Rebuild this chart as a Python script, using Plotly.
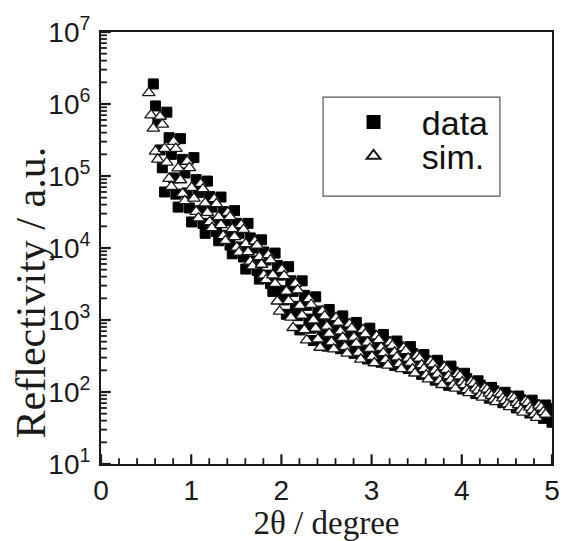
import math
import plotly.graph_objects as go

# Measured reflectivity (black squares)
data_x = [0.58, 0.605, 0.63, 0.655, 0.68, 0.705, 0.73, 0.755, 0.78, 0.805,
          0.83, 0.855, 0.88, 0.905, 0.93, 0.955, 0.98, 1.005, 1.03, 1.055,
          1.08, 1.105, 1.13, 1.155, 1.18, 1.205, 1.23, 1.255, 1.28, 1.305,
          1.33, 1.355, 1.38, 1.405, 1.43, 1.455, 1.48, 1.505, 1.53, 1.555,
          1.58, 1.605, 1.63, 1.655, 1.68, 1.705, 1.73, 1.755, 1.78, 1.805,
          1.83, 1.855, 1.88, 1.905, 1.93, 1.955, 1.98, 2.005, 2.03, 2.055,
          2.08, 2.105, 2.13, 2.155, 2.18, 2.205, 2.23, 2.255, 2.28, 2.305,
          2.33, 2.355, 2.38, 2.405, 2.43, 2.455, 2.48, 2.505, 2.53, 2.555,
          2.58, 2.605, 2.63, 2.655, 2.68, 2.705, 2.73, 2.755, 2.78, 2.805,
          2.83, 2.855, 2.88, 2.905, 2.93, 2.955, 2.98, 3.005, 3.03, 3.055,
          3.08, 3.105, 3.13, 3.155, 3.18, 3.205, 3.23, 3.255, 3.28, 3.305,
          3.33, 3.355, 3.38, 3.405, 3.43, 3.455, 3.48, 3.505, 3.53, 3.555,
          3.58, 3.605, 3.63, 3.655, 3.68, 3.705, 3.73, 3.755, 3.78, 3.805,
          3.83, 3.855, 3.88, 3.905, 3.93, 3.955, 3.98, 4.005, 4.03, 4.055,
          4.08, 4.105, 4.13, 4.155, 4.18, 4.205, 4.23, 4.255, 4.28, 4.305,
          4.33, 4.355, 4.38, 4.405, 4.43, 4.455, 4.48, 4.505, 4.53, 4.555,
          4.58, 4.605, 4.63, 4.655, 4.68, 4.705, 4.73, 4.755, 4.78, 4.805,
          4.83, 4.855, 4.88, 4.905, 4.93, 4.955, 4.98, 5.00]
data_y = [1.9e6, 9.4e5, 5.8e5, 2.3e5, 1.3e5, 6.0e4, 7.7e5, 3.4e5, 2.0e5, 9.4e4,
          5.6e4, 3.7e4, 3.3e5, 1.7e5, 1.1e5, 5.8e4, 3.6e4, 2.3e4, 1.8e5, 8.9e4,
          5.9e4, 3.3e4, 2.2e4, 1.6e4, 8.5e4, 5.2e4, 3.7e4, 2.3e4, 1.7e4, 1.26e4,
          5.1e4, 3.2e4, 2.4e4, 1.5e4, 1.1e4, 8.3e3, 3.3e4, 2.2e4, 1.6e4, 1.03e4,
          7.5e3, 5.1e3, 2.2e4, 1.38e4, 1.0e4, 6.6e3, 4.9e3, 3.7e3, 1.3e4, 8.8e3,
          6.8e3, 4.2e3, 3.2e3, 2.5e3, 8.5e3, 5.7e3, 4.2e3, 2.55e3, 1.9e3, 1.2e3,
          5.5e3, 3.5e3, 2.5e3, 1.55e3, 1.15e3, 728, 3.5e3, 2.2e3, 1.6e3, 1.03e3,
          770, 519, 2.1e3, 1.33e3, 1.0e3, 718, 560, 433, 1.4e3, 1.05e3,
          810, 628, 510, 399, 1.14e3, 875, 700, 532, 440, 345,
          925, 714, 575, 438, 363, 287, 770, 608, 490, 383,
          320, 259, 630, 499, 413, 334, 288, 234, 510, 423,
          355, 289, 251, 212, 427, 342, 295, 240, 214, 176,
          331, 270, 237, 198, 176, 146, 276, 229, 200, 166,
          147, 124, 229, 189, 167, 141, 127, 110, 182, 153,
          137, 118, 108, 95, 143, 124, 113, 99, 92, 82,
          116, 104, 95, 85, 79, 71, 99, 88, 81, 73,
          68, 60, 88, 78, 71, 62, 58, 51, 77, 67,
          61, 53, 49, 43, 66, 59, 53, 38]

# Simulated reflectivity (open triangles)
sim_x = [0.53, 0.555, 0.58, 0.605, 0.63, 0.655, 0.68, 0.705, 0.73, 0.755,
         0.78, 0.805, 0.83, 0.855, 0.88, 0.905, 0.93, 0.955, 0.98, 1.005,
         1.03, 1.055, 1.08, 1.105, 1.13, 1.155, 1.18, 1.205, 1.23, 1.255,
         1.28, 1.305, 1.33, 1.355, 1.38, 1.405, 1.43, 1.455, 1.48, 1.505,
         1.53, 1.555, 1.58, 1.605, 1.63, 1.655, 1.68, 1.705, 1.73, 1.755,
         1.78, 1.805, 1.83, 1.855, 1.88, 1.905, 1.93, 1.955, 1.98, 2.005,
         2.03, 2.055, 2.08, 2.105, 2.13, 2.155, 2.18, 2.205, 2.23, 2.255,
         2.28, 2.305, 2.33, 2.355, 2.38, 2.405, 2.43, 2.455, 2.48, 2.505,
         2.53, 2.555, 2.58, 2.605, 2.63, 2.655, 2.68, 2.705, 2.73, 2.755,
         2.78, 2.805, 2.83, 2.855, 2.88, 2.905, 2.93, 2.955, 2.98, 3.005,
         3.03, 3.055, 3.08, 3.105, 3.13, 3.155, 3.18, 3.205, 3.23, 3.255,
         3.28, 3.305, 3.33, 3.355, 3.38, 3.405, 3.43, 3.455, 3.48, 3.505,
         3.53, 3.555, 3.58, 3.605, 3.63, 3.655, 3.68, 3.705, 3.73, 3.755,
         3.78, 3.805, 3.83, 3.855, 3.88, 3.905, 3.93, 3.955, 3.98, 4.005,
         4.03, 4.055, 4.08, 4.105, 4.13, 4.155, 4.18, 4.205, 4.23, 4.255,
         4.28, 4.305, 4.33, 4.355, 4.38, 4.405, 4.43, 4.455, 4.48, 4.505,
         4.53, 4.555, 4.58, 4.605, 4.63, 4.655, 4.68, 4.705, 4.73, 4.755,
         4.78, 4.805, 4.83, 4.855, 4.88, 4.905, 4.93]
sim_y = [1.43e6, 7.0e5, 4.6e5, 2.2e5, 1.7e5, 6.7e5, 5.2e5, 2.4e5, 1.55e5, 9.2e4,
         7.1e4, 3.0e5, 2.4e5, 1.29e5, 8.8e4, 5.7e4, 4.5e4, 1.6e5, 1.3e5, 6.9e4,
         4.9e4, 3.2e4, 2.6e4, 7.8e4, 6.6e4, 4.2e4, 3.1e4, 2.3e4, 1.9e4, 4.8e4,
         4.1e4, 2.7e4, 2.1e4, 1.47e4, 1.26e4, 3.1e4, 2.7e4, 1.84e4, 1.43e4, 1.02e4,
         8.7e3, 2.1e4, 1.8e4, 1.14e4, 8.8e3, 6.5e3, 5.6e3, 1.24e4, 1.09e4, 7.5e3,
         5.9e3, 4.2e3, 3.6e3, 8.0e3, 6.8e3, 4.2e3, 3.2e3, 1.82e3, 1.32e3, 5.0e3,
         4.1e3, 2.5e3, 1.84e3, 1.09e3, 780, 3.2e3, 2.6e3, 1.58e3, 1.16e3, 730,
         527, 1.97e3, 1.63e3, 995, 767, 542, 415, 1.33e3, 1.13e3, 813,
         647, 494, 394, 1.07e3, 929, 698, 570, 425, 343, 875,
         766, 573, 470, 352, 284, 728, 637, 488, 400, 310,
         253, 597, 530, 413, 348, 279, 235, 490, 440, 356,
         305, 245, 209, 410, 373, 294, 256, 208, 182, 320,
         294, 237, 210, 172, 151, 266, 244, 200, 176, 144,
         126, 222, 204, 167, 149, 125, 112, 178, 166, 137,
         125, 107, 97, 139, 132, 113, 105, 91, 84, 114,
         109, 96, 89, 79, 73, 97, 93, 82, 76, 68,
         62, 86, 82, 71, 66, 57, 52, 75, 71, 61,
         56, 49, 44, 65, 61, 53, 49]

series_names = ["data", "sim."]

x_tick_vals = [0, 1, 2, 3, 4, 5]
x_tick_text = ["0", "1", "2", "3", "4", "5"]
y_tick_exps = [1, 2, 3, 4, 5, 6, 7]

y_tick_vals = [10 ** e for e in y_tick_exps]
y_tick_text = ["10<sup>%d</sup>" % e for e in y_tick_exps]

L, R, T, B = 101, 12, 22, 74
W, H = 572, 541
pw, ph = W - L - R, H - T - B
XMIN, XMAX = 0, 5
YMIN, YMAX = 1, 7  # log10 range


def px_to_paper_x(px):
    return (px - L) / pw


def px_to_paper_y(py):
    return (H - B - py) / ph


PAD = "\u00a0" * 3
INK = "#1a1a1a"

fig = go.Figure()
fig.add_trace(go.Scatter(
    x=data_x, y=data_y, mode="markers", name=PAD + series_names[0],
    marker=dict(symbol="square", size=10, color="black",
                line=dict(color="black", width=1)),
    legend="legend",
))
fig.add_trace(go.Scatter(
    x=sim_x, y=sim_y, mode="markers", name=PAD + series_names[1],
    marker=dict(symbol="triangle-up", size=11, color="white",
                line=dict(color=INK, width=1.3)),
    legend="legend2",
))

# inside tick marks on the bottom and left frame, placed through the axes
MAJ, MIN = 10, 6
x_per_px = (XMAX - XMIN) / pw
dec_per_px = (YMAX - YMIN) / ph
major_x, major_y, minor_x, minor_y = [], [], [], []
for i in range(26):
    v = XMIN + i * 0.2
    if i % 5 == 0:
        major_x += [v, v, None]
        major_y += [10 ** YMIN, 10 ** (YMIN + MAJ * dec_per_px), None]
    else:
        minor_x += [v, v, None]
        minor_y += [10 ** YMIN, 10 ** (YMIN + MIN * dec_per_px), None]
for e in y_tick_exps:
    major_x += [XMIN, XMIN + MAJ * x_per_px, None]
    major_y += [10 ** e, 10 ** e, None]
    if e < YMAX:
        for m in range(2, 10):
            minor_x += [XMIN, XMIN + MIN * x_per_px, None]
            minor_y += [m * 10 ** e, m * 10 ** e, None]
fig.add_trace(go.Scatter(
    x=major_x, y=major_y, mode="lines", line=dict(color=INK, width=2.2),
    showlegend=False, hoverinfo="skip", cliponaxis=False,
))
fig.add_trace(go.Scatter(
    x=minor_x, y=minor_y, mode="lines", line=dict(color=INK, width=1.8),
    showlegend=False, hoverinfo="skip", cliponaxis=False,
))

# legend frame
shapes = [dict(
    type="rect", xref="paper", yref="paper",
    x0=px_to_paper_x(327), x1=px_to_paper_x(507),
    y0=px_to_paper_y(191), y1=px_to_paper_y(89),
    line=dict(color="#555555", width=1.2), fillcolor="rgba(0,0,0,0)",
    layer="above",
)]

tick_font = dict(family="Liberation Sans, Arial, sans-serif", size=28, color=INK)
title_font = dict(family="Liberation Serif, Times New Roman, serif", size=33, color=INK)
ytitle_font = dict(family="Liberation Serif, Times New Roman, serif", size=42, color=INK)
legend_font = dict(family="Liberation Sans, Arial, sans-serif", size=34, color="#111111")

legend_common = dict(
    xanchor="left", yanchor="middle",
    bgcolor="rgba(0,0,0,0)", borderwidth=0,
    font=legend_font, itemsizing="constant",
)

fig.update_layout(
    width=W, height=H,
    margin=dict(l=L, r=R, t=T, b=B),
    paper_bgcolor="white", plot_bgcolor="white",
    showlegend=True,
    legend=dict(x=px_to_paper_x(358), y=px_to_paper_y(115), **legend_common),
    legend2=dict(x=px_to_paper_x(358), y=px_to_paper_y(150), **legend_common),
    shapes=shapes,
    annotations=[dict(
        text="Reflectivity / a.u.", xref="paper", yref="paper",
        x=px_to_paper_x(30), y=px_to_paper_y(290), xanchor="center", yanchor="middle",
        textangle=-90, showarrow=False, font=ytitle_font,
    )],
    xaxis=dict(
        range=[XMIN, XMAX], tickmode="array", tickvals=x_tick_vals, ticktext=x_tick_text,
        ticks="",
        showline=True, linecolor=INK, linewidth=2, mirror=True,
        showgrid=False, zeroline=False,
        tickfont=tick_font,
        title=dict(text="2θ / degree", font=title_font, standoff=0),
    ),
    yaxis=dict(
        type="log", range=[YMIN, YMAX],
        tickmode="array", tickvals=y_tick_vals, ticktext=y_tick_text,
        ticks="",
        showline=True, linecolor=INK, linewidth=2, mirror=True,
        showgrid=False, zeroline=False,
        tickfont=tick_font, ticklabelstandoff=3,
    ),
)

fig.write_html("out.html")
